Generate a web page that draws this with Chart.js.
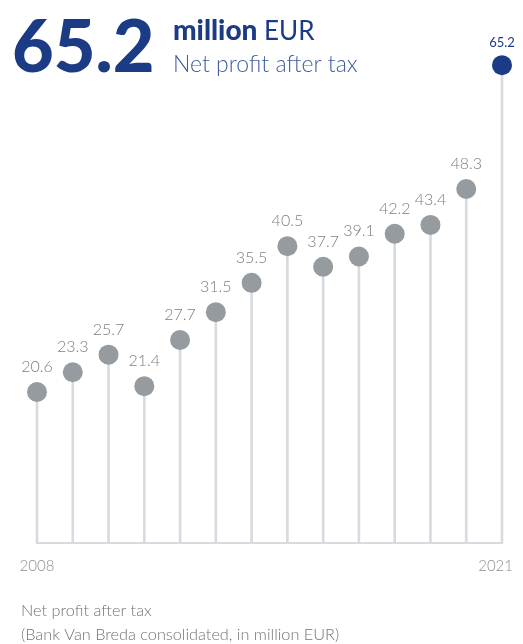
<!DOCTYPE html>
<html>
<head>
<meta charset="utf-8">
<script src="https://cdn.jsdelivr.net/npm/chart.js@4.4.1/dist/chart.umd.min.js"></script>
<style>
  body { margin: 0; background: #fff; }
  #wrap { position: relative; width: 523px; height: 644px; }
</style>
</head>
<body>
<div id="wrap"><canvas id="profitChart"></canvas></div>
<script>
// net profit after tax, million EUR
const years = ['2008', '2009', '2010', '2011', '2012', '2013', '2014', '2015', '2016', '2017', '2018', '2019', '2020', '2021'];
const profit = [20.6, 23.3, 25.7, 21.4, 27.7, 31.5, 35.5, 40.5, 37.7, 39.1, 42.2, 43.4, 48.3, 65.2];
const yearTicks = ['2008', '2021'];

const BLUE = '#1b3b85';
const GREY_DOT = '#959b9e';
const STEM = '#d7dade';

const lastIdx = profit.length - 1;
const dotColors = profit.map((v, i) => i === lastIdx ? BLUE : GREY_DOT);

/* baseline, value labels, year ticks and the headline text */
const lollipopText = {
  id: 'lollipopText',
  beforeDatasetsDraw(chart) {
    const {ctx, chartArea, scales} = chart;
    const y0 = scales.y.getPixelForValue(0);
    ctx.save();
    ctx.strokeStyle = STEM;
    ctx.lineWidth = 2;
    ctx.beginPath();
    ctx.moveTo(chartArea.left - 1, y0);
    ctx.lineTo(chartArea.right + 1, y0);
    ctx.stroke();
    ctx.restore();
  },
  afterDatasetsDraw(chart) {
    const {ctx, scales} = chart;
    const meta = chart.getDatasetMeta(1);
    ctx.save();
    ctx.textAlign = 'center';
    ctx.textBaseline = 'alphabetic';
    meta.data.forEach((pt, i) => {
      if (i === lastIdx) {
        ctx.font = '400 13px Lato';
        ctx.fillStyle = BLUE;
        ctx.fillText(profit[i].toFixed(1), pt.x, pt.y - 18);
      } else {
        ctx.font = '300 16px Lato';
        ctx.fillStyle = '#7b8084';
        ctx.fillText(profit[i].toFixed(1), pt.x, pt.y - 20);
      }
    });

    // first and last year under the baseline
    ctx.font = '300 15px Lato';
    ctx.fillStyle = '#8a8f92';
    const xFirst = scales.x.getPixelForValue(years.indexOf(yearTicks[0]));
    const xLast = scales.x.getPixelForValue(years.indexOf(yearTicks[1]));
    ctx.textAlign = 'center';
    ctx.fillText(yearTicks[0], xFirst, 571);
    ctx.textAlign = 'right';
    ctx.fillText(yearTicks[1], xLast + 11, 571);

    // headline
    ctx.textAlign = 'left';
    ctx.fillStyle = BLUE;
    ctx.font = '900 72px Lato';
    ctx.fillText(profit[lastIdx].toFixed(1), 12, 72);
    ctx.font = '900 28px Lato';
    ctx.fillText('million', 173, 40);
    const w = ctx.measureText('million ').width;
    ctx.font = '400 26px Lato';
    ctx.fillText('EUR', 173 + w, 40);
    ctx.font = '300 23px Lato';
    ctx.fillStyle = '#3f5c9c';
    ctx.fillText('Net profit after tax', 173, 72);

    // footnote
    ctx.font = '300 16.3px Lato';
    ctx.fillStyle = '#6f7477';
    ctx.fillText('Net profit after tax', 21, 616);
    ctx.fillText('(Bank Van Breda consolidated, in million EUR)', 21, 640);
    ctx.restore();
  }
};

new Chart(document.getElementById('profitChart'), {
  type: 'bar',
  data: {
    labels: years,
    datasets: [
      {
        // stems
        type: 'bar',
        data: profit,
        backgroundColor: STEM,
        barThickness: 2,
        clip: false,
        order: 2
      },
      {
        // dots
        type: 'line',
        data: profit,
        showLine: false,
        pointRadius: 10,
        pointHoverRadius: 10,
        pointBackgroundColor: dotColors,
        pointBorderWidth: 0,
        clip: false,
        order: 1
      }
    ]
  },
  options: {
    responsive: true,
    maintainAspectRatio: false,
    animation: false,
    layout: { padding: { left: 37, right: 21, top: 30, bottom: 101 } },
    plugins: { legend: { display: false }, tooltip: { enabled: false } },
    scales: {
      x: { display: false, offset: false },
      y: { display: false, min: 0, max: 70 }
    }
  },
  plugins: [lollipopText]
});
</script>
</body>
</html>
